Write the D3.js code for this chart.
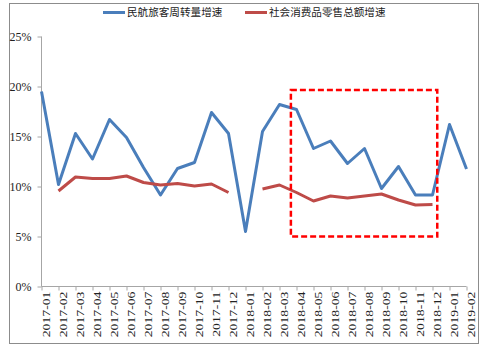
<!DOCTYPE html>
<html><head><meta charset="utf-8">
<script src="https://cdnjs.cloudflare.com/ajax/libs/d3/7.8.5/d3.min.js"></script>
<style>
html,body{margin:0;padding:0;background:#fff;}
svg{display:block;}
</style></head>
<body>
<svg id="c" width="484" height="348"></svg>
<script>
const categories = ["2017-01","2017-02","2017-03","2017-04","2017-05","2017-06","2017-07","2017-08","2017-09","2017-10","2017-11","2017-12","2018-01","2018-02","2018-03","2018-04","2018-05","2018-06","2018-07","2018-08","2018-09","2018-10","2018-11","2018-12","2019-01","2019-02"];
const seriesNames = ["民航旅客周转量增速","社会消费品零售总额增速"];
const airPassenger = [19.5,10.2,15.3,12.75,16.7,14.9,11.9,9.15,11.8,12.4,17.4,15.3,5.5,15.5,18.2,17.7,13.8,14.55,12.3,13.8,9.8,12.0,9.15,9.15,16.2,11.75];
const retailSales = [null,9.55,10.95,10.8,10.8,11.05,10.4,10.15,10.3,10.05,10.25,9.4,null,9.75,10.15,9.4,8.55,9.05,8.85,9.05,9.25,8.65,8.15,8.2,null,null];
const yTicks = [0,5,10,15,20,25];
// highlight box: category-index span and value span
const boxIdx = [14.67, 23.28];
const boxVal = [5.0, 19.65];

const svg = d3.select("#c");
const colors = ["#4A7EBB","#BE4B48"];

// frame
svg.append("rect").attr("x",9.5).attr("y",3.5).attr("width",469).attr("height",340)
  .attr("fill","none").attr("stroke","#8c8c8c").attr("stroke-width",1);

const x = d3.scalePoint().domain(categories).range([41.5,466.5]);
const xi = d3.scaleLinear().domain([0,categories.length-1]).range([41.5,466.5]);
const y = d3.scaleLinear().domain([0,25]).range([286.5,36.5]);

// y axis
const yAxis = svg.append("g").attr("transform","translate(41.5,0)")
  .call(d3.axisLeft(y).tickValues(yTicks).tickSize(4).tickPadding(6).tickFormat(d=>d+"%"));
yAxis.selectAll("path,line").attr("stroke","#a6a6a6");
yAxis.select(".domain").attr("d","M0,36.5V286.5");
yAxis.selectAll("text").attr("font-family","'Liberation Serif',serif").attr("font-size",12).attr("fill","#222");

// x axis
const xAxis = svg.append("g").attr("transform","translate(0,286.5)")
  .call(d3.axisBottom(x).tickSize(4).tickFormat(""));
xAxis.selectAll("path,line").attr("stroke","#a6a6a6");
xAxis.select(".domain").attr("d","M41.5,0H466.5");
xAxis.selectAll(".tick").append("text")
  .text(d=>d)
  .attr("font-family","'Liberation Serif',serif").attr("font-size",11).attr("fill","#222")
  .attr("text-anchor","end")
  .attr("transform","translate(8,5) rotate(-90) scale(1.25,0.85)");

// lines
const line = d3.line().defined(d=>d.v!=null).x(d=>x(d.c)).y(d=>y(d.v));
[airPassenger, retailSales].forEach((arr,i)=>{
  svg.append("path")
    .datum(categories.map((c,j)=>({c:c,v:arr[j]})))
    .attr("d",line).attr("fill","none")
    .attr("stroke",colors[i]).attr("stroke-width",3).attr("stroke-linejoin","round");
});

// highlight box
svg.append("rect")
  .attr("x",xi(boxIdx[0])).attr("y",y(boxVal[1]))
  .attr("width",xi(boxIdx[1])-xi(boxIdx[0])).attr("height",y(boxVal[0])-y(boxVal[1]))
  .attr("fill","none").attr("stroke","#FF0000").attr("stroke-width",2.5).attr("stroke-dasharray","6,3");

// legend
const leg = [{x:103,tx:127},{x:245,tx:269}];
seriesNames.forEach((n,i)=>{
  svg.append("line").attr("x1",leg[i].x).attr("x2",leg[i].x+22).attr("y1",12.5).attr("y2",12.5)
    .attr("stroke",colors[i]).attr("stroke-width",3);
  svg.append("text").attr("x",leg[i].tx).attr("y",12.5).attr("dy","0.35em")
    .attr("font-family","'Noto Sans CJK SC',sans-serif").attr("font-size",10.6).attr("fill","#222")
    .text(n);
});
</script>
</body></html>
